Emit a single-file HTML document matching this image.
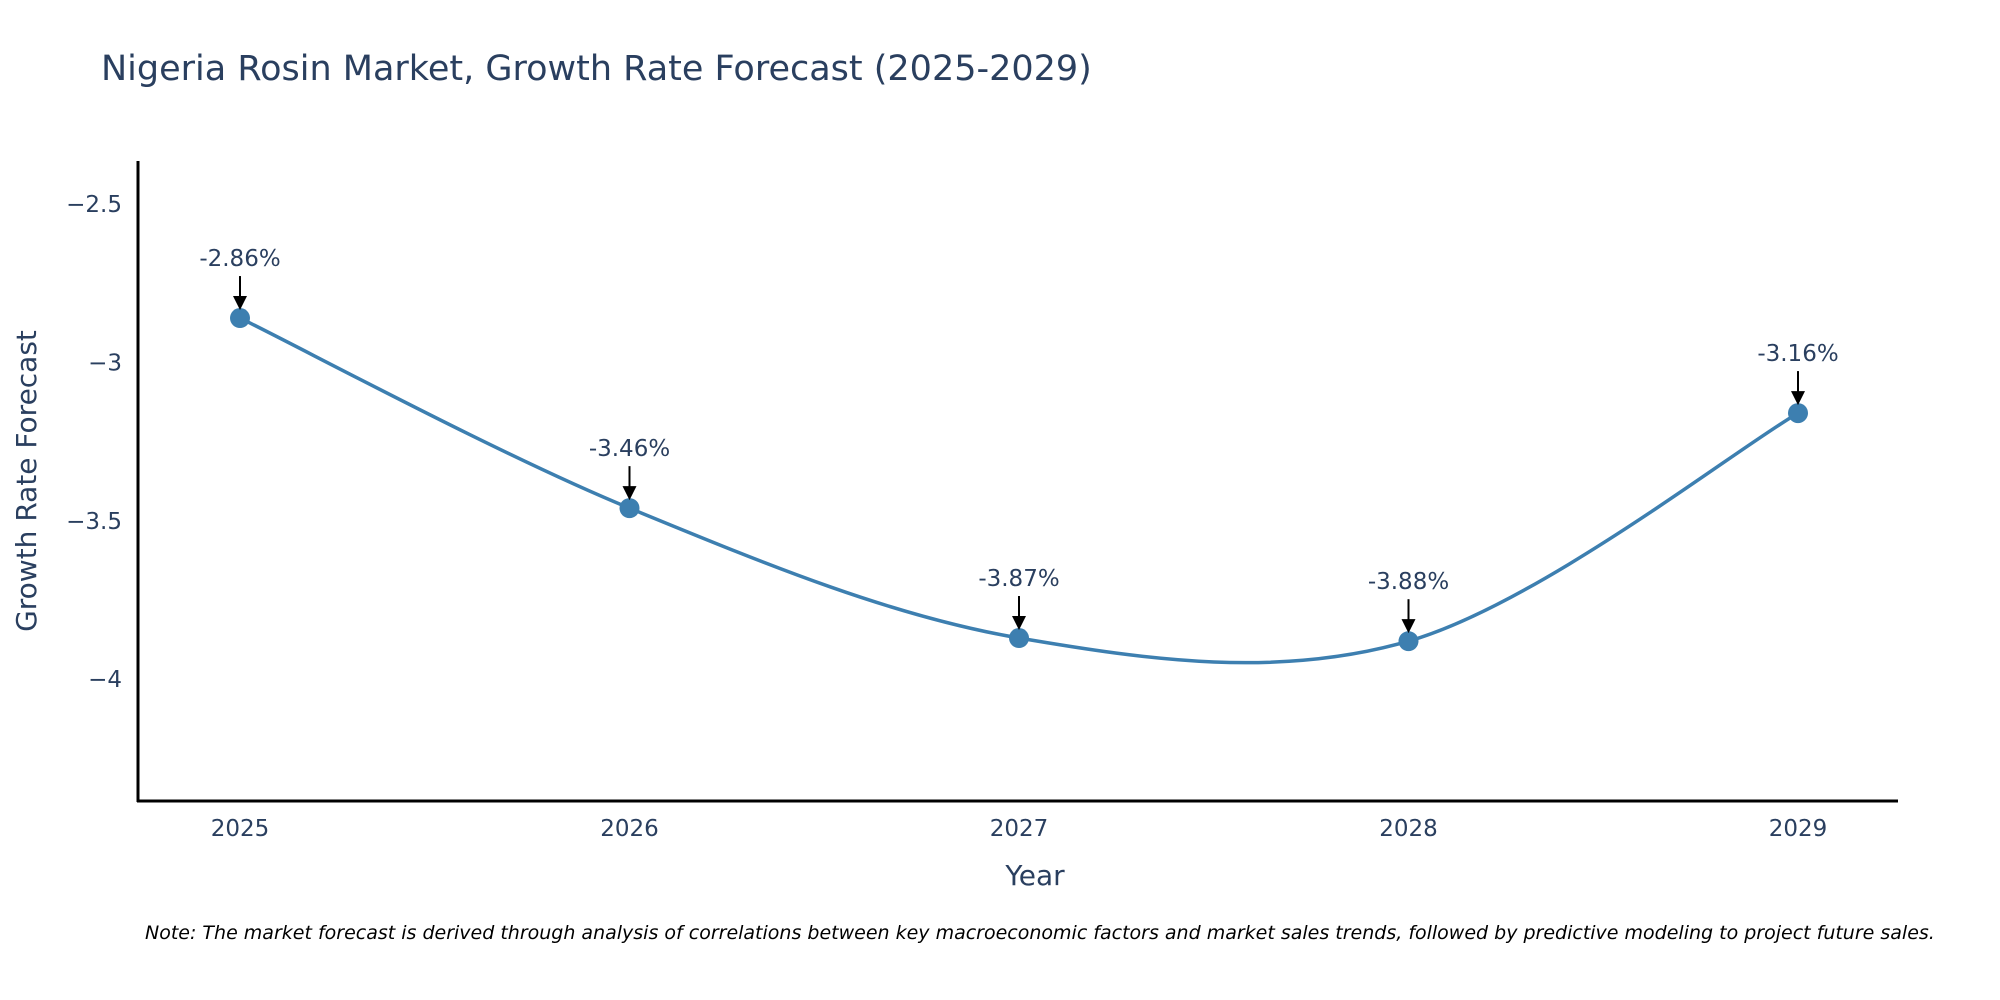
<!DOCTYPE html>
<html><head><meta charset="utf-8"><style>
body{margin:0;background:#fff;}
svg{display:block;font-family:"DejaVu Sans","Liberation Sans",sans-serif;}
</style></head><body>
<svg id="chart" width="2000" height="1000">
<text x="101" y="80" font-size="35" fill="#2a3f5f">Nigeria Rosin Market, Growth Rate Forecast (2025-2029)</text>
<g id="yticks"></g><g id="xticks"></g>
<line x1="138" y1="161" x2="138" y2="802" stroke="#000" stroke-width="3"/>
<line x1="137" y1="801" x2="1898" y2="801" stroke="#000" stroke-width="3"/>
<text x="1035" y="885" font-size="28" fill="#2a3f5f" text-anchor="middle">Year</text>
<text transform="translate(36,481) rotate(-90)" font-size="28" fill="#2a3f5f" text-anchor="middle">Growth Rate Forecast</text>
<g id="series"></g>
<text x="145" y="939" font-size="19" font-style="italic" fill="#000">Note: The market forecast is derived through analysis of correlations between key macroeconomic factors and market sales trends, followed by predictive modeling to project future sales.</text>
</svg>
<script>
const years=[2025,2026,2027,2028,2029];
const values=[-2.86,-3.46,-3.87,-3.88,-3.16];
const labels=["-2.86%","-3.46%","-3.87%","-3.88%","-3.16%"];
const yTicks=[-2.5,-3,-3.5,-4];
const yTickLabels=["\u22122.5","\u22123","\u22123.5","\u22124"];
const NS="http://www.w3.org/2000/svg";
function xs(v){return 240+(v-2025)*389.5;}
function ys(v){return 204+(-2.5-v)*316.8;}
function mk(tag,attrs,parent){const e=document.createElementNS(NS,tag);for(const k in attrs)e.setAttribute(k,attrs[k]);parent.appendChild(e);return e;}
const yt=document.getElementById('yticks');
yTicks.forEach((t,i)=>{const e=mk('text',{x:122,y:ys(t)+8,'font-size':23,fill:'#2a3f5f','text-anchor':'end'},yt);


e.textContent=yTickLabels[i];});
const xt=document.getElementById('xticks');
years.forEach(y=>{const e=mk('text',{x:xs(y),y:836,'font-size':23,fill:'#2a3f5f','text-anchor':'middle'},xt);


e.textContent=y;});
const g=document.getElementById('series');
const P=years.map((y,i)=>[xs(y),ys(values[i])]);
let d=`M${P[0][0]},${P[0][1]}`;const t=0.5;
for(let i=0;i<P.length-1;i++){const p0=P[Math.max(i-1,0)],p1=P[i],p2=P[i+1],p3=P[Math.min(i+2,P.length-1)];
const c1=[p1[0]+(p2[0]-p0[0])*t/3,p1[1]+(p2[1]-p0[1])*t/3];
const c2=[p2[0]-(p3[0]-p1[0])*t/3,p2[1]-(p3[1]-p1[1])*t/3];
d+=` C${c1[0]},${c1[1]} ${c2[0]},${c2[1]} ${p2[0]},${p2[1]}`;}
const line=mk('path',{d:d,fill:'none',stroke:'#3d7fb0','stroke-width':3.5},g);


P.forEach((p,i)=>{
const c=mk('circle',{cx:p[0],cy:p[1],r:10,fill:'#3d7fb0'},g);


const a=mk('line',{x1:p[0],y1:p[1]-42,x2:p[0],y2:p[1]-20,stroke:'#000','stroke-width':2},g);


const h=mk('polygon',{points:`${p[0]-7},${p[1]-22} ${p[0]+7},${p[1]-22} ${p[0]},${p[1]-8}`,fill:'#000'},g);


const tx=mk('text',{x:p[0],y:p[1]-52,'font-size':23,fill:'#2a3f5f','text-anchor':'middle'},g);


tx.textContent=labels[i];});
</script>
</body></html>
